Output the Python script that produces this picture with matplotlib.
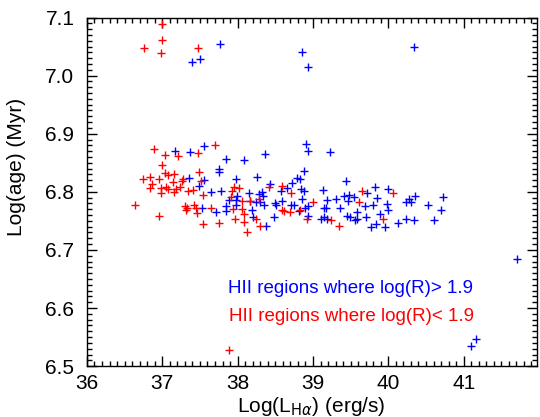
import numpy as np
import matplotlib
matplotlib.use('Agg')
import matplotlib.pyplot as plt
from matplotlib.ticker import MultipleLocator

plt.rcParams['font.family'] = ['Liberation Sans', 'DejaVu Sans']

# HII regions with log(R) > 1.9
blue_x = [37.39, 37.50, 37.77, 38.85, 38.93, 40.34, 41.71, 41.10, 41.17,
          37.17, 37.37, 37.55, 37.84, 37.75, 37.75, 37.35, 37.56, 37.49, 37.98,
          37.65, 37.78, 37.88, 37.98, 37.98, 37.85, 37.84, 37.71, 37.53, 37.99,
          38.91, 38.93, 39.23, 38.36, 38.08, 38.88, 38.26, 38.79, 38.83, 38.72,
          39.44, 38.43, 38.65, 38.58, 38.84, 38.88, 39.13, 39.82, 40.00, 38.15,
          38.32, 38.28, 38.34, 38.16, 38.24, 38.30, 38.85, 38.94, 38.59, 38.49,
          38.51, 38.35, 38.71, 38.75, 38.90, 38.81, 38.19, 38.48, 38.21, 38.37,
          38.93, 39.14, 39.17, 39.19, 39.31, 39.41, 39.48, 39.55, 39.47, 39.36,
          39.10, 39.15, 39.19, 39.45, 39.49, 39.56, 39.59, 39.59, 39.70, 39.69,
          39.72, 39.80, 39.85, 39.89, 39.84, 39.77, 39.96, 39.98, 40.00, 40.13,
          40.24, 40.34, 40.24, 40.28, 40.30, 40.35, 40.53, 40.60, 40.70, 40.73]
blue_y = [7.024, 7.028, 7.054, 7.040, 7.014, 7.049, 6.684, 6.535, 6.547,
          6.871, 6.869, 6.879, 6.856, 6.839, 6.834, 6.823, 6.821, 6.810, 6.822,
          6.800, 6.801, 6.786, 6.786, 6.778, 6.776, 6.767, 6.766, 6.772, 6.792,
          6.882, 6.870, 6.868, 6.865, 6.854, 6.836, 6.825, 6.824, 6.822, 6.816,
          6.819, 6.813, 6.806, 6.802, 6.804, 6.802, 6.803, 6.808, 6.805, 6.798,
          6.800, 6.796, 6.792, 6.784, 6.783, 6.782, 6.788, 6.776, 6.784, 6.780,
          6.777, 6.777, 6.778, 6.777, 6.773, 6.767, 6.769, 6.757, 6.756, 6.742,
          6.758, 6.773, 6.773, 6.786, 6.788, 6.792, 6.795, 6.791, 6.784, 6.772,
          6.754, 6.757, 6.753, 6.759, 6.757, 6.752, 6.754, 6.766, 6.756, 6.776,
          6.798, 6.777, 6.789, 6.761, 6.744, 6.739, 6.739, 6.779, 6.768, 6.746,
          6.753, 6.751, 6.782, 6.788, 6.782, 6.792, 6.777, 6.751, 6.769, 6.791]

# HII regions with log(R) < 1.9
red_x = [36.76, 36.99, 36.99, 36.98, 37.48, 37.89,
         36.89, 37.04, 37.21, 37.47, 37.70, 36.99, 37.03, 37.08, 37.16, 36.74,
         36.84, 36.96, 37.14, 37.28, 37.26, 37.49, 36.86, 36.84, 36.98, 37.05,
         37.07, 37.18, 37.23, 37.15, 36.98, 37.34, 37.41, 37.52, 37.54, 37.93,
         37.95, 38.02, 37.91, 36.64, 37.30, 37.33, 37.31, 37.42, 37.45, 37.46,
         37.65, 37.94, 36.95, 37.54, 37.75, 37.96,
         38.06, 38.16, 38.28, 38.41, 38.59, 38.71, 38.06, 38.08, 38.08, 38.12,
         38.24, 38.30, 38.59, 38.62, 38.69, 38.83, 38.92, 39.00, 39.24, 39.34,
         39.65, 39.61, 39.93, 40.06]
red_y = [7.048, 7.089, 7.062, 7.039, 7.047, 6.528,
         6.874, 6.864, 6.861, 6.866, 6.881, 6.847, 6.832, 6.829, 6.831, 6.822,
         6.825, 6.822, 6.817, 6.822, 6.818, 6.834, 6.813, 6.807, 6.806, 6.808,
         6.805, 6.804, 6.808, 6.800, 6.798, 6.801, 6.803, 6.819, 6.795, 6.802,
         6.808, 6.806, 6.791, 6.777, 6.776, 6.773, 6.769, 6.777, 6.773, 6.763,
         6.772, 6.770, 6.758, 6.744, 6.746, 6.754,
         6.784, 6.785, 6.788, 6.808, 6.810, 6.798, 6.770, 6.762, 6.748, 6.731,
         6.753, 6.741, 6.769, 6.767, 6.765, 6.769, 6.753, 6.783, 6.751, 6.742,
         6.801, 6.782, 6.753, 6.798]

fig = plt.figure(figsize=(5.4, 4.17), dpi=100)
ax = fig.add_axes([0.161, 0.122, 0.833, 0.836])

ax.plot(blue_x, blue_y, '+', color='blue', ms=6, mew=1)
ax.plot(red_x, red_y, '+', color='red', ms=6, mew=1)

ax.set_xlim(36, 41.97)
ax.set_ylim(6.5, 7.1)
ax.xaxis.set_minor_locator(MultipleLocator(0.1))
ax.yaxis.set_minor_locator(MultipleLocator(0.01))
ax.set_yticks([6.5, 6.6, 6.7, 6.8, 6.9, 7.0, 7.1])
ax.set_yticklabels(['6.5', '6.6', '6.7', '6.8', '6.9', '7.0', '7.1'])
ax.set_xticks([36, 37, 38, 39, 40, 41])

ax.tick_params(which='both', direction='in', top=True, right=True, labelsize=15)
ax.tick_params(which='major', length=7, width=1)
ax.tick_params(which='minor', length=3.5, width=1)
ax.tick_params(axis='y', which='major', pad=9)
ax.tick_params(axis='x', which='major', pad=6)
for s in ax.spines.values():
    s.set_linewidth(1)

ax.set_xlabel(r'Log(L$_{\mathrm{H}\alpha}$) (erg/s)', fontsize=15)
ax.set_ylabel('Log(age) (Myr)', fontsize=15)
ax.xaxis.set_label_coords(0.498, -0.082)
ax.yaxis.set_label_coords(-0.135, 0.57)

ax.text(39.50, 6.633, 'HII regions where log(R)> 1.9', color='blue',
        fontsize=13.5, ha='center', va='center')
ax.text(39.51, 6.586, 'HII regions where log(R)< 1.9', color='red',
        fontsize=13.5, ha='center', va='center')

plt.savefig('out.png', dpi=100)
plt.close()
